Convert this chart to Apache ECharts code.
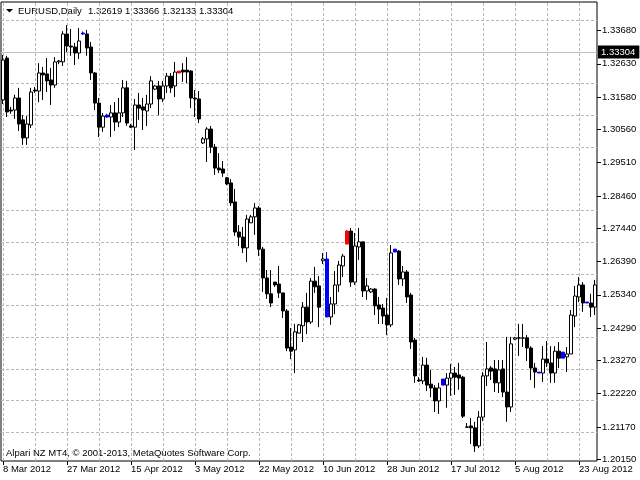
<!DOCTYPE html>
<html><head><meta charset="utf-8">
<script src="https://cdn.jsdelivr.net/npm/echarts@6/dist/echarts.min.js"></script>
<style>html,body{margin:0;padding:0;background:#fff}#c{width:640px;height:480px}</style>
</head><body><div id="c"></div>
<script>
const dates = ['8 Mar 2012','9 Mar 2012','11 Mar 2012','12 Mar 2012','13 Mar 2012','14 Mar 2012','15 Mar 2012','16 Mar 2012','18 Mar 2012','19 Mar 2012','20 Mar 2012','21 Mar 2012','22 Mar 2012','23 Mar 2012','25 Mar 2012','26 Mar 2012','27 Mar 2012','28 Mar 2012','29 Mar 2012','30 Mar 2012',
'1 Apr 2012','2 Apr 2012','3 Apr 2012','4 Apr 2012','5 Apr 2012','6 Apr 2012','8 Apr 2012','9 Apr 2012','10 Apr 2012','11 Apr 2012','12 Apr 2012','13 Apr 2012','15 Apr 2012','16 Apr 2012','17 Apr 2012','18 Apr 2012','19 Apr 2012','20 Apr 2012','22 Apr 2012','23 Apr 2012','24 Apr 2012','25 Apr 2012','26 Apr 2012','27 Apr 2012','29 Apr 2012','30 Apr 2012',
'1 May 2012','2 May 2012','3 May 2012','4 May 2012','6 May 2012','7 May 2012','8 May 2012','9 May 2012','10 May 2012','11 May 2012','13 May 2012','14 May 2012','15 May 2012','16 May 2012','17 May 2012','18 May 2012','20 May 2012','21 May 2012','22 May 2012','23 May 2012','24 May 2012','25 May 2012','27 May 2012','28 May 2012','29 May 2012','30 May 2012','31 May 2012',
'1 Jun 2012','3 Jun 2012','4 Jun 2012','5 Jun 2012','6 Jun 2012','7 Jun 2012','8 Jun 2012','10 Jun 2012','11 Jun 2012','12 Jun 2012','13 Jun 2012','14 Jun 2012','15 Jun 2012','17 Jun 2012','18 Jun 2012','19 Jun 2012','20 Jun 2012','21 Jun 2012','22 Jun 2012','24 Jun 2012','25 Jun 2012','26 Jun 2012','27 Jun 2012','28 Jun 2012','29 Jun 2012',
'1 Jul 2012','2 Jul 2012','3 Jul 2012','4 Jul 2012','5 Jul 2012','6 Jul 2012','8 Jul 2012','9 Jul 2012','10 Jul 2012','11 Jul 2012','12 Jul 2012','13 Jul 2012','15 Jul 2012','16 Jul 2012','17 Jul 2012','18 Jul 2012','19 Jul 2012','20 Jul 2012','22 Jul 2012','23 Jul 2012','24 Jul 2012','25 Jul 2012','26 Jul 2012','27 Jul 2012','29 Jul 2012','30 Jul 2012','31 Jul 2012',
'1 Aug 2012','2 Aug 2012','3 Aug 2012','5 Aug 2012','6 Aug 2012','7 Aug 2012','8 Aug 2012','9 Aug 2012','10 Aug 2012','12 Aug 2012','13 Aug 2012','14 Aug 2012','15 Aug 2012','16 Aug 2012','17 Aug 2012','19 Aug 2012','20 Aug 2012','21 Aug 2012','22 Aug 2012','23 Aug 2012','24 Aug 2012','26 Aug 2012','27 Aug 2012','28 Aug 2012'];

const open = [
1.3149,1.3281,1.3117,1.3117,1.3155,1.3086,1.3029,1.3070,1.3180,1.3177,
1.3234,1.3231,1.3212,1.3196,1.3269,1.3269,1.3357,1.3319,1.3316,1.3297,
1.3360,1.3357,1.3316,1.3234,1.3139,1.3063,1.3101,1.3095,1.3108,1.3079,
1.3108,1.3187,1.3067,1.3063,1.3133,1.3127,1.3114,1.3136,1.3183,1.3193,
1.3152,1.3193,1.3224,1.3193,1.3240,1.3243,1.3243,1.3240,1.3155,1.3152,
1.3013,1.3026,1.3057,1.3000,1.2934,1.2931,1.2903,1.2887,1.2827,1.2732,
1.2716,1.2682,1.2761,1.2780,1.2808,1.2678,1.2587,1.2537,1.2574,1.2568,
1.2540,1.2483,1.2369,1.2360,1.2413,1.2436,1.2495,1.2448,1.2577,1.2562,
1.2641,1.2647,1.2464,1.2505,1.2565,1.2625,1.2735,1.2735,1.2574,1.2685,
1.2701,1.2546,1.2543,1.2552,1.2502,1.2492,1.2470,1.2439,1.2678,1.2672,
1.2584,1.2606,1.2533,1.2391,1.2265,1.2262,1.2312,1.2252,1.2240,1.2199,
1.2268,1.2249,1.2271,1.2287,1.2281,1.2274,1.2117,1.2120,1.2114,1.2057,
1.2148,1.2278,1.2303,1.2300,1.2256,1.2300,1.2227,1.2180,1.2394,1.2398,
1.2397,1.2398,1.2366,1.2303,1.2290,1.2287,1.2331,1.2319,1.2287,1.2356,
1.2353,1.2338,1.2347,1.2467,1.2527,1.2565,1.2511,1.2508,1.2495];

const close = [
1.3275,1.3111,1.3114,1.3155,1.3073,1.3029,1.3073,1.3174,1.3177,1.3234,
1.3228,1.3209,1.3196,1.3269,1.3272,1.3357,1.3319,1.3316,1.3297,1.3335,
1.3357,1.3313,1.3234,1.3139,1.3063,1.3098,1.3095,1.3108,1.3079,1.3108,
1.3187,1.3076,1.3063,1.3133,1.3123,1.3117,1.3136,1.3209,1.3193,1.3152,
1.3193,1.3224,1.3187,1.3237,1.3234,1.3237,1.3237,1.3155,1.3152,1.3089,
1.3026,1.3057,1.3000,1.2934,1.2928,1.2918,1.2884,1.2824,1.2732,1.2716,
1.2682,1.2773,1.2780,1.2808,1.2678,1.2587,1.2537,1.2508,1.2565,1.2540,
1.2483,1.2366,1.2356,1.2417,1.2439,1.2495,1.2448,1.2577,1.2559,1.2495,
1.2647,1.2464,1.2505,1.2565,1.2628,1.2656,1.2694,1.2574,1.2688,1.2701,
1.2546,1.2562,1.2552,1.2499,1.2489,1.2467,1.2439,1.2666,1.2669,1.2584,
1.2606,1.2527,1.2385,1.2278,1.2262,1.2312,1.2249,1.2240,1.2199,1.2240,
1.2249,1.2271,1.2287,1.2274,1.2271,1.2151,1.2116,1.2114,1.2057,1.2148,
1.2278,1.2300,1.2293,1.2256,1.2297,1.2227,1.2180,1.2379,1.2398,1.2397,
1.2398,1.2366,1.2303,1.2290,1.2287,1.2331,1.2319,1.2287,1.2356,1.2334,
1.2334,1.2347,1.2470,1.2530,1.2565,1.2508,1.2508,1.2495,1.2565];

const high = [
1.3291,1.3288,1.3127,1.3165,1.3187,1.3101,1.3098,1.3187,1.3190,1.3265,
1.3253,1.3281,1.3250,1.3284,1.3275,1.3366,1.3385,1.3373,1.3329,1.3376,
1.3365,1.3370,1.3332,1.3237,1.3155,1.3108,1.3105,1.3133,1.3142,1.3155,
1.3212,1.3209,1.3073,1.3152,1.3171,1.3155,1.3165,1.3224,1.3196,1.3209,
1.3209,1.3234,1.3234,1.3269,1.3240,1.3265,1.3284,1.3243,1.3180,1.3177,
1.3032,1.3063,1.3067,1.3010,1.2981,1.2956,1.2906,1.2899,1.2868,1.2754,
1.2748,1.2786,1.2786,1.2824,1.2814,1.2685,1.2612,1.2612,1.2574,1.2625,
1.2540,1.2489,1.2429,1.2442,1.2442,1.2511,1.2540,1.2587,1.2622,1.2593,
1.2666,1.2669,1.2527,1.2609,1.2641,1.2663,1.2738,1.2745,1.2729,1.2745,
1.2701,1.2587,1.2555,1.2555,1.2527,1.2505,1.2524,1.2691,1.2678,1.2675,
1.2625,1.2612,1.2540,1.2398,1.2274,1.2338,1.2335,1.2297,1.2249,1.2256,
1.2268,1.2287,1.2316,1.2306,1.2319,1.2278,1.2129,1.2145,1.2133,1.2167,
1.2290,1.2385,1.2309,1.2328,1.2328,1.2328,1.2401,1.2401,1.2401,1.2442,
1.2442,1.2407,1.2372,1.2319,1.2290,1.2372,1.2388,1.2372,1.2372,1.2385,
1.2353,1.2369,1.2486,1.2562,1.2590,1.2574,1.2511,1.2537,1.2581];

const low = [
1.3136,1.3095,1.3105,1.3089,1.3051,1.3007,1.3007,1.3060,1.3171,1.3142,
1.3149,1.3174,1.3133,1.3187,1.3262,1.3256,1.3300,1.3288,1.3259,1.3278,
1.3354,1.3288,1.3212,1.3117,1.3032,1.3048,1.3092,1.3032,1.3051,1.3063,
1.3095,1.3067,1.3060,1.2991,1.3086,1.3054,1.3067,1.3123,1.3180,1.3101,
1.3142,1.3171,1.3171,1.3158,1.3234,1.3206,1.3202,1.3123,1.3095,1.3076,
1.3010,1.2953,1.2981,1.2912,1.2918,1.2906,1.2880,1.2814,1.2720,1.2688,
1.2666,1.2637,1.2761,1.2723,1.2656,1.2543,1.2521,1.2495,1.2559,1.2524,
1.2461,1.2356,1.2331,1.2287,1.2413,1.2385,1.2410,1.2442,1.2540,1.2432,
1.2631,1.2464,1.2439,1.2473,1.2543,1.2590,1.2694,1.2559,1.2565,1.2644,
1.2527,1.2518,1.2540,1.2470,1.2442,1.2442,1.2407,1.2432,1.2669,1.2565,
1.2562,1.2508,1.2363,1.2256,1.2259,1.2252,1.2230,1.2211,1.2164,1.2158,
1.2249,1.2177,1.2215,1.2218,1.2234,1.2145,1.2114,1.2063,1.2038,1.2050,
1.2136,1.2246,1.2265,1.2227,1.2224,1.2211,1.2133,1.2164,1.2391,1.2341,
1.2369,1.2325,1.2265,1.2240,1.2287,1.2259,1.2306,1.2256,1.2256,1.2303,
1.2334,1.2290,1.2347,1.2432,1.2511,1.2480,1.2508,1.2464,1.2470];

const blueBars = ['1 Apr 2012','8 Apr 2012','11 Jun 2012','1 Jul 2012','15 Jul 2012','12 Aug 2012','19 Aug 2012','26 Aug 2012'];
const redBars = ['29 Apr 2012','17 Jun 2012'];
const priceTicks = [1.20150,1.21170,1.22220,1.23270,1.24290,1.25340,1.26390,1.27440,1.28460,1.29510,1.30560,1.31580,1.32630,1.33680];
const bidPrice = 1.33304;
const headerSymbol = 'EURUSD,Daily';
const headerOHLC = ['1.32619','1.33366','1.32133','1.33304'];
const footerText = 'Alpari NZ MT4, \u00A9 2001-2013, MetaQuotes Software Corp.';

const FONT = 'Liberation Sans';
const gridColor = '#b8b8b8';

const candles = dates.map((d, i) => {
  const item = { value: [open[i], close[i], low[i], high[i]] };
  const col = blueBars.includes(d) ? '#0000ff' : (redBars.includes(d) ? '#ff0000' : null);
  if (col) item.itemStyle = { color: col, color0: col, borderColor: col, borderColor0: col, borderColorDoji: col };
  return item;
});

const gridDash = { color: gridColor, type: [3, 2], width: 1 };
const markData = [];
dates.forEach((d, i) => { if (i % 8 === 0) markData.push({ xAxis: d, lineStyle: gridDash }); });
priceTicks.forEach(v => markData.push({ yAxis: v, lineStyle: gridDash }));
markData.push({
  yAxis: bidPrice,
  lineStyle: { color: '#c0c0c0', type: 'solid', width: 1 },
  label: {
    show: true, position: 'end', distance: 1,
    formatter: () => bidPrice.toFixed(5),
    color: '#fff', backgroundColor: '#000', padding: [2, 4, 1, 3],
    fontFamily: FONT, fontSize: 9.5
  }
});

const chart = echarts.init(document.getElementById('c'), null, { renderer: 'canvas' });
chart.setOption({
  animation: false,
  backgroundColor: '#fff',
  grid: { left: 1, top: 2, width: 596, height: 459, show: true, borderColor: '#000', borderWidth: 1, backgroundColor: 'transparent' },
  xAxis: {
    type: 'category', data: dates, boundaryGap: true,
    axisLine: { show: false },
    axisTick: { show: true, alignWithLabel: true, interval: 15, length: 4, lineStyle: { color: '#000' } },
    axisLabel: { interval: 15, align: 'left', margin: 3, color: '#000', fontFamily: FONT, fontSize: 9.5, padding: [0, 0, 0, 0] },
    splitLine: { show: false }
  },
  yAxis: {
    type: 'value', position: 'right', min: 1.20094, max: 1.34580,
    axisLine: { show: false },
    axisTick: { show: true, customValues: priceTicks, length: 4, lineStyle: { color: '#000' } },
    axisLabel: { customValues: priceTicks, formatter: v => v.toFixed(5), margin: 5, color: '#000', fontFamily: FONT, fontSize: 9.5 },
    splitLine: { show: false }
  },
  series: [{
    type: 'candlestick',
    data: candles,
    barWidth: 3,
    clip: false,
    itemStyle: { color: '#fff', color0: '#000', borderColor: '#000', borderColor0: '#000', borderColorDoji: '#000', borderWidth: 1 },
    markLine: { silent: true, symbol: 'none', z: 1, animation: false, label: { show: false }, data: markData }
  }],
  graphic: [
    { type: 'polygon', shape: { points: [[6, 9], [13, 9], [9.5, 12.5]] }, style: { fill: '#000' } },
    { type: 'text', x: 18, y: 11, style: { text: headerSymbol, font: '9.5px "' + FONT + '"', fill: '#000', verticalAlign: 'middle' } },
    { type: 'text', x: 88, y: 11, style: { text: headerOHLC.join(' '), font: '9.5px "' + FONT + '"', fill: '#000', verticalAlign: 'middle' } },
    { type: 'text', x: 6, y: 453, style: { text: footerText, font: '9.5px "' + FONT + '"', fill: '#000', verticalAlign: 'middle' } }
  ]
});
</script></body></html>
